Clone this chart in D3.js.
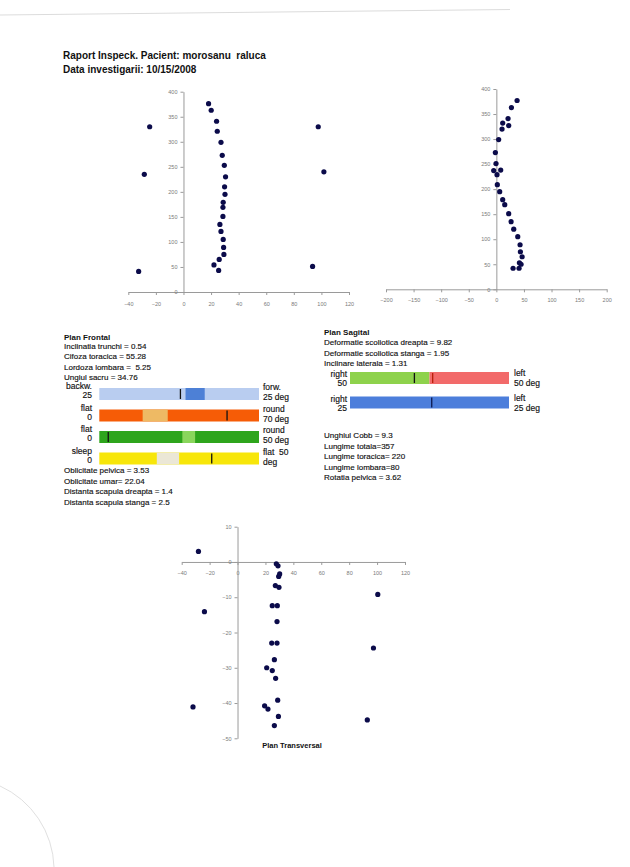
<!DOCTYPE html>
<html>
<head>
<meta charset="utf-8">
<script src="https://cdn.jsdelivr.net/npm/d3@7"></script>
<style>
  body { margin: 0; background: #fff; }
  text { font-family: "Liberation Sans", Arial, sans-serif; }
</style>
</head>
<body>
<div id="page"></div>
<script>
// points
const frontalPts = [[18.2,376],[20.1,363],[24,341],[24.5,321],[27.2,299],[28.1,273],[29.6,253],[30.5,230],[29.8,210],[30.1,195],[28.8,179],[28.6,169],[28.6,151],[26.4,135],[27.2,121],[28.8,105],[29.1,89],[29.3,75],[25.9,65],[22.1,54],[25.5,43],[-24.5,330],[-28.4,235],[-32.5,41],[97.7,330],[101.8,240],[93.6,51]];
const sagitalPts = [[37.6,377],[27.3,363],[21.2,341],[22.4,327],[11.5,332],[10.3,320],[4.2,299],[-1.8,273],[-0.6,251],[-4.8,237],[7.9,238],[1.2,229],[1.8,209],[6.1,195],[11.5,179],[15.2,169],[22.4,151],[26.7,135],[31.5,120],[38.8,105],[43,89],[43.6,75],[46.7,65],[41.8,53],[44.8,50],[30.3,42],[41.2,42]];
const transvPts = [[-28,3],[27.8,-0.5],[29,-1.1],[29.5,-4.1],[30.2,-3.4],[27.1,-6.7],[29.7,-7.2],[100.5,-9.2],[-23.7,-14.1],[24.9,-12.4],[28.5,-12.4],[28.3,-16.9],[24.5,-23],[28.3,-23],[97.4,-24.4],[26.4,-27.7],[20.9,-30],[24.9,-30.8],[27.3,-33],[28.8,-39.2],[-31.9,-41.1],[19.4,-40.8],[21.8,-41.7],[29.3,-43.8],[26.4,-46.4],[93,-44.8]];

const frontalXTicks = [-40,-20,0,20,40,60,80,100,120];
const frontalYTicks = [0,50,100,150,200,250,300,350,400];
const sagitalXTicks = [-200,-150,-100,-50,0,50,100,150,200];
const sagitalYTicks = [0,50,100,150,200,250,300,350,400];
const transvXTicks = [-40,-20,0,20,40,60,80,100,120];
const transvYTicks = [10,0,-10,-20,-30,-40,-50];

// text blocks
const headerLines = ["Raport Inspeck. Pacient: morosanu  raluca", "Data investigarii: 10/15/2008"];
const frontalLines = ["Inclinatia trunchi = 0.54","Cifoza toracica = 55.28","Lordoza lombara =  5.25","Ungiul sacru = 34.76"];
const frontalLines2 = ["Oblicitate pelvica = 3.53","Oblicitate umar= 22.04","Distanta scapula dreapta = 1.4","Distanta scapula stanga = 2.5"];
const sagitalLines = ["Deformatie scoliotica dreapta = 9.82","Deformatie scoliotica stanga = 1.95","Inclinare laterala = 1.31"];
const sagitalLines2 = ["Unghiul Cobb = 9.3","Lungime totala=357","Lungime toracica= 220","Lungime lombara=80","Rotatia pelvica = 3.62"];

// gauge bars
const frontalLeft = [["backw.","25"],["flat","0"],["flat","0"],["sleep","0"]];
const frontalRight = [["forw.","25 deg"],["round","70 deg"],["round","50 deg"],["flat  50","deg"]];
const frontalDomains = [[-25,25],[0,70],[0,50],[0,50]];
const frontalNormal = [[2,8],[19,30],[26,30],[18,25]];
const frontalMarkers = [0.4, 56, 2.8, 35.2];

const sagitalLeft = [["right","50"],["right","25"]];
const sagitalRight = [["left","50 deg"],["left","25 deg"]];
const sagitalDomains = [[-50,50],[-25,25]];
const sagitalSplits = [0, null];
const sagitalMarkers = [[-9.5, 2], [0.7]];

const frontalColors = [["#b9cdf0","#4d80d6"],["#f65c06","#eeba64"],["#2ea51c","#8ad65c"],["#f7e60a","#ebe7d6"]];
const sagitalColors = [["#8ed24c","#f26a6a"],["#4c7edb","#4c7edb"]];
const sagitalMarkerColors = [["#111","#b81e0a"],["#0c1a50"]];

const width = 630, height = 867;
const svg = d3.select("#page").append("svg")
  .attr("width", width).attr("height", height);

// scan marks
svg.append("path")
  .attr("d", "M0,15 L510,9.5")
  .attr("stroke", "#dcdcdc").attr("fill", "none").attr("stroke-width", 1);
svg.append("path")
  .attr("d", "M0,786 A92,92 0 0,1 54,867")
  .attr("stroke", "#e0e0e0").attr("fill", "none").attr("stroke-width", 1);

// header
svg.selectAll("text.header")
  .data(headerLines)
  .join("text")
    .attr("class", "header")
    .attr("x", 63)
    .attr("y", (d, i) => 58.5 + i * 14.5)
    .style("white-space", "pre")
    .style("font-size", "10px")
    .style("font-weight", "bold")
    .attr("fill", "#111")
    .text(d => d);

const drawScatter = (pts, cfg) => {
  const x = d3.scaleLinear().domain(cfg.xDomain).range(cfg.xRange);
  const y = d3.scaleLinear().domain(cfg.yDomain).range(cfg.yRange);
  const g = svg.append("g");

  const xAxis = g.append("g")
    .attr("transform", `translate(0,${y(0)})`)
    .call(d3.axisBottom(x).tickValues(cfg.xTicks).tickSize(3).tickSizeOuter(0).tickPadding(cfg.xPad));
  const yAxis = g.append("g")
    .attr("transform", `translate(${x(0)},0)`)
    .call(d3.axisLeft(y).tickValues(cfg.yTicks).tickSize(3).tickSizeOuter(0).tickPadding(3));

  [xAxis, yAxis].forEach(a => {
    a.select(".domain").attr("stroke", "#9a9a9a");
    a.selectAll(".tick line").attr("stroke", "#9a9a9a");
    a.selectAll(".tick text")
      .attr("fill", "#7a7a7a")
      .style("font-size", "5.5px")
      .style("font-family", "Liberation Sans, Arial, sans-serif");
  });

  g.selectAll("circle")
    .data(pts)
    .join("circle")
      .attr("cx", d => x(d[0]))
      .attr("cy", d => y(d[1]))
      .attr("r", 2.6)
      .attr("fill", "#0b0b4a");
};

drawScatter(frontalPts, {
  xDomain: [-40,120], xRange: [128.3,349],
  yDomain: [0,400], yRange: [292,91.7],
  xTicks: frontalXTicks, yTicks: frontalYTicks, xPad: 7
});
drawScatter(sagitalPts, {
  xDomain: [-200,200], xRange: [386,606.7],
  yDomain: [0,400], yRange: [289.3,89],
  xTicks: sagitalXTicks, yTicks: sagitalYTicks, xPad: 6
});
drawScatter(transvPts, {
  xDomain: [-40,120], xRange: [181.7,405],
  yDomain: [-50,10], yRange: [738.3,526.7],
  xTicks: transvXTicks, yTicks: transvYTicks, xPad: 6
});

svg.append("text")
  .attr("x", 292).attr("y", 747.5)
  .attr("text-anchor", "middle")
  .style("font-size", "7.5px").style("font-weight", "bold")
  .attr("fill", "#111")
  .text("Plan Transversal");

// text helper
const textBlock = (lines, x, y0, step, bold) => {
  svg.append("g")
    .selectAll("text")
    .data(lines)
    .join("text")
      .attr("x", x)
      .attr("y", (d, i) => y0 + i * step + 3)
      .style("white-space", "pre")
      .style("font-size", "8px")
      .style("font-weight", bold ? "bold" : "normal")
      .attr("fill", "#111")
      .attr("stroke", bold ? "none" : "#111")
      .attr("stroke-width", 0.15)
      .text(d => d);
};

// Plan Frontal
textBlock(["Plan Frontal"], 64, 337, 0, true);
textBlock(frontalLines, 64, 346, 10.3, false);
textBlock(frontalLines2, 64, 470, 10.5, false);

const fBarX = [99.3, 259];
const fBarTop = [388, 409.5, 431, 452.5];
const barH = 12;

frontalDomains.forEach((dom, i) => {
  const x = d3.scaleLinear().domain(dom).range(fBarX);
  const g = svg.append("g");
  g.append("rect")
    .attr("x", x(dom[0])).attr("y", fBarTop[i])
    .attr("width", x(dom[1]) - x(dom[0])).attr("height", barH)
    .attr("fill", frontalColors[i][0]);
  g.append("rect")
    .attr("x", x(frontalNormal[i][0])).attr("y", fBarTop[i])
    .attr("width", x(frontalNormal[i][1]) - x(frontalNormal[i][0])).attr("height", barH)
    .attr("fill", frontalColors[i][1]);
  g.append("line")
    .attr("x1", x(frontalMarkers[i])).attr("x2", x(frontalMarkers[i]))
    .attr("y1", fBarTop[i] + 1).attr("y2", fBarTop[i] + barH - 1)
    .attr("stroke", "#111").attr("stroke-width", 1.3);

  g.selectAll("text.l")
    .data(frontalLeft[i])
    .join("text")
      .attr("class", "l")
      .attr("x", 92)
      .attr("y", (d, j) => fBarTop[i] + 1 + j * 9)
      .attr("text-anchor", "end")
      .style("font-size", "8.5px")
      .attr("fill", "#111").attr("stroke", "#111").attr("stroke-width", 0.15)
      .text(d => d);
  g.selectAll("text.r")
    .data(frontalRight[i])
    .join("text")
      .attr("class", "r")
      .attr("x", 263)
      .attr("y", (d, j) => fBarTop[i] + 2 + j * 10)
      .style("white-space", "pre")
      .style("font-size", "8.5px")
      .attr("fill", "#111").attr("stroke", "#111").attr("stroke-width", 0.15)
      .text(d => d);
});

// Plan Sagital
textBlock(["Plan Sagital"], 324, 332.3, 0, true);
textBlock(sagitalLines, 324, 342.3, 10.5, false);
textBlock(sagitalLines2, 324, 435, 10.5, false);

const sBarX = [350, 509];
const sBarTop = [372, 396.5];

sagitalDomains.forEach((dom, i) => {
  const x = d3.scaleLinear().domain(dom).range(sBarX);
  const g = svg.append("g");
  const split = sagitalSplits[i] === null ? dom[1] : sagitalSplits[i];
  g.append("rect")
    .attr("x", x(dom[0])).attr("y", sBarTop[i])
    .attr("width", x(split) - x(dom[0])).attr("height", barH)
    .attr("fill", sagitalColors[i][0]);
  g.append("rect")
    .attr("x", x(split)).attr("y", sBarTop[i])
    .attr("width", x(dom[1]) - x(split)).attr("height", barH)
    .attr("fill", sagitalColors[i][1]);
  g.selectAll("line")
    .data(sagitalMarkers[i])
    .join("line")
      .attr("x1", d => x(d)).attr("x2", d => x(d))
      .attr("y1", sBarTop[i] + 1).attr("y2", sBarTop[i] + barH - 1)
      .attr("stroke", (d, j) => sagitalMarkerColors[i][j])
      .attr("stroke-width", 1.3);

  g.selectAll("text.l")
    .data(sagitalLeft[i])
    .join("text")
      .attr("class", "l")
      .attr("x", 347)
      .attr("y", (d, j) => sBarTop[i] + 5 + j * 9)
      .attr("text-anchor", "end")
      .style("font-size", "8.5px")
      .attr("fill", "#111").attr("stroke", "#111").attr("stroke-width", 0.15)
      .text(d => d);
  g.selectAll("text.r")
    .data(sagitalRight[i])
    .join("text")
      .attr("class", "r")
      .attr("x", 514)
      .attr("y", (d, j) => sBarTop[i] + 4 + j * 10)
      .style("font-size", "8.5px")
      .attr("fill", "#111").attr("stroke", "#111").attr("stroke-width", 0.15)
      .text(d => d);
});
</script>
</body>
</html>
